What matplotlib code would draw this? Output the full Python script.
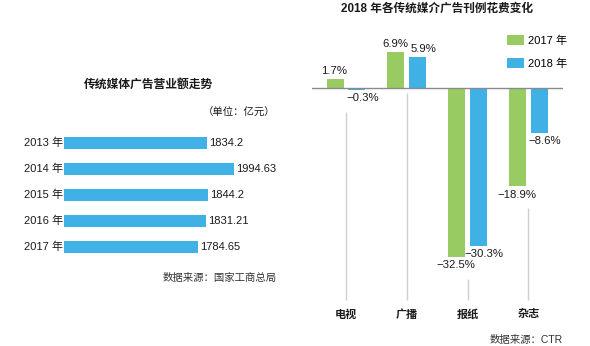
import numpy as np
import matplotlib
matplotlib.use('Agg')
import matplotlib.pyplot as plt

plt.rcParams['font.family'] = ['Liberation Sans', 'Noto Sans CJK SC', 'DejaVu Sans']

# Left chart data
years = ['2013 年', '2014 年', '2015 年', '2016 年', '2017 年']
revenue = [1834.2, 1994.63, 1844.2, 1831.21, 1784.65]
revenue_labels = ['1834.2', '1994.63', '1844.2', '1831.21', '1784.65']

# Right chart data
media = ['电视', '广播', '报纸', '杂志']
change_2017 = [1.7, 6.9, -32.5, -18.9]
change_2018 = [-0.3, 5.9, -30.3, -8.6]
series_names = ['2017 年', '2018 年']

green = '#98cc62'
blue = '#3fb1e5'
text_color = '#1a1a1a'

fig = plt.figure(figsize=(5.9, 3.46), dpi=100)

# Left: horizontal bars
ax1 = fig.add_axes([64 / 590, 0.2486, 0.40, 0.3757])
y = np.arange(len(years))
ax1.barh(y, revenue, height=0.43, left=0, color=blue)
ax1.set_xlim(1000, 2380)
ax1.set_ylim(4.5, -0.5)
for i, v in enumerate(revenue):
    ax1.text(v + 12, i, revenue_labels[i], va='center', ha='left', fontsize=8, color=text_color)
    ax1.text(995, i, years[i], va='center', ha='right', fontsize=8, color=text_color)
for s in ax1.spines.values():
    s.set_visible(False)
ax1.set_xticks([])
ax1.set_yticks([])

fig.text(149 / 590, 1 - 85 / 346, '传统媒体广告营业额走势', ha='center', va='center',
         fontsize=8.5, fontweight='bold', color=text_color)
fig.text(275 / 590, 1 - 113 / 346, '（单位：亿元）', ha='right', va='center',
         fontsize=7.5, color=text_color)
fig.text(277 / 590, 1 - 278 / 346, '数据来源：国家工商总局', ha='right', va='center',
         fontsize=7.5, color='#333333')

# Right: grouped bars
ax2 = fig.add_axes([312 / 590, 41 / 346, 251 / 590, 285 / 346])
x = np.arange(len(media))
off = 0.18
w = 0.28
b1 = ax2.bar(x - off, change_2017, width=w, color=green, label=series_names[0])
b2 = ax2.bar(x + off, change_2018, width=w, color=blue, label=series_names[1])
ax2.set_xlim(-0.56, 3.57)
ax2.set_ylim(-41.7, 13.1)
ax2.axhline(0, color='#8a8a8a', lw=1.0, zorder=3)

# label offsets: blue labels sit a little right of their bars, like the original
for xs, vals, shift in [(x - off, change_2017, -0.01), (x + off, change_2018, 0.09)]:
    for xi, v in zip(xs, vals):
        lab = ('%.1f%%' % v).replace('-', '−')
        if v >= 0:
            ax2.text(xi + shift, v + 0.6, lab, ha='center', va='bottom', fontsize=8.2, color=text_color)
        else:
            ax2.text(xi + shift, v - 0.6, lab, ha='center', va='top', fontsize=8.2, color=text_color)

for i in range(len(media)):
    low = min(change_2017[i], change_2018[i], 0)
    top = low - 4.2 if low < 0 else -1.0
    ax2.vlines(i, -40.8, top, color='#cfcfcf', lw=1.0)
    ax2.text(i, -43.5, media[i], ha='center', va='center', fontsize=8,
             fontweight='bold', color=text_color, clip_on=False)

for s in ax2.spines.values():
    s.set_visible(False)
ax2.set_xticks([])
ax2.set_yticks([])

ax2.legend(handles=[b1, b2], loc='upper left', bbox_to_anchor=(497 / 590, 1 - 25 / 346),
           bbox_transform=fig.transFigure, frameon=False, fontsize=8,
           handlelength=1.5, handleheight=1.0, labelspacing=1.1, handletextpad=0.4)

fig.text(437 / 590, 1 - 9 / 346, '2018 年各传统媒介广告刊例花费变化', ha='center', va='center',
         fontsize=8.4, fontweight='bold', color=text_color)
fig.text(563 / 590, 1 - 340 / 346, '数据来源：CTR', ha='right', va='center',
         fontsize=7.5, color='#333333')

fig.savefig('out.png', dpi=100, facecolor='white')
